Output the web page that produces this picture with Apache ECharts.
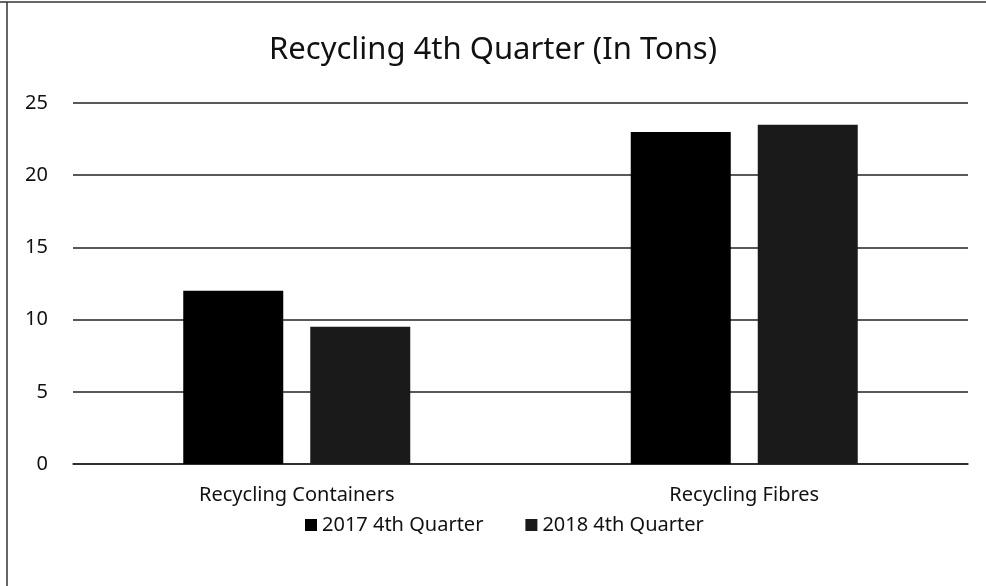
<!DOCTYPE html>
<html><head><meta charset="utf-8">
<script src="https://cdn.jsdelivr.net/npm/echarts@6/dist/echarts.min.js"></script>
<style>html,body{margin:0;padding:0;background:#fff}#c{width:986px;height:586px}</style>
</head><body><div id="c"></div>
<script>
const categories = ['Recycling Containers', 'Recycling Fibres'];
const series2017 = [12, 23];
const series2018 = [9.5, 23.5];
const seriesNames = ['2017 4th Quarter', '2018 4th Quarter'];
const yTicks = [0, 5, 10, 15, 20, 25];

const font = 'Noto Sans';
const chart = echarts.init(document.getElementById('c'));
chart.setOption({
  animation: false,
  backgroundColor: '#fff',
  title: {
    text: 'Recycling 4th Quarter (In Tons)',
    left: 'center', top: 30,
    textStyle: {fontFamily: font, fontSize: 31, fontWeight: 'normal', color: '#111'}
  },
  legend: {
    top: 510, left: 300, itemGap: 42,
    icon: 'rect', itemWidth: 12, itemHeight: 12,
    textStyle: {fontFamily: font, fontSize: 20, color: '#111'},
    data: seriesNames
  },
  graphic: [
    {type: 'line', shape: {x1: 0, y1: 2, x2: 986, y2: 2},
     style: {stroke: '#333', lineWidth: 1.5}, silent: true},
    {type: 'line', shape: {x1: 7, y1: 2, x2: 7, y2: 586},
     style: {stroke: '#333', lineWidth: 1.5}, silent: true}
  ],
  grid: {left: 73, right: 18, top: 103, bottom: 122},
  xAxis: {
    type: 'category', data: categories,
    axisLine: {show: true, lineStyle: {color: '#222', width: 1.5}},
    axisTick: {show: false},
    axisLabel: {fontFamily: font, fontSize: 20, color: '#111', margin: 21}
  },
  yAxis: {
    type: 'value', min: yTicks[0], max: yTicks[yTicks.length - 1], interval: 5,
    axisLine: {show: false}, axisTick: {show: false},
    axisLabel: {fontFamily: font, fontSize: 20, color: '#111', margin: 25},
    splitLine: {lineStyle: {color: '#222', width: 1.5}}
  },
  series: [
    {name: seriesNames[0], type: 'bar', data: series2017, barWidth: 100, barGap: '27%',
     itemStyle: {color: '#000'}},
    {name: seriesNames[1], type: 'bar', data: series2018, barWidth: 100,
     itemStyle: {color: '#1a1a1a'}}
  ]
});
</script></body></html>
